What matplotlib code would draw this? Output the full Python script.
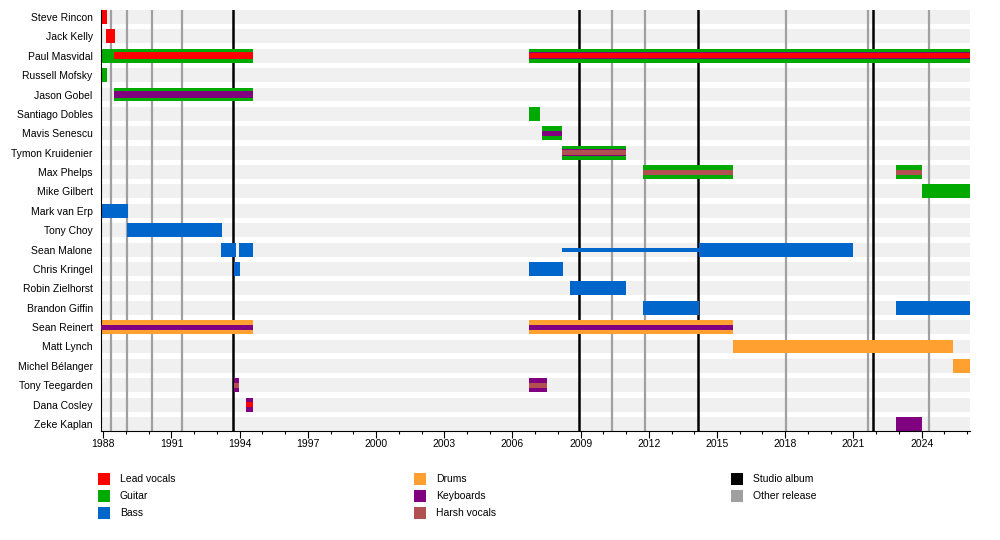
import matplotlib.pyplot as plt
from matplotlib.patches import Rectangle

plt.rcParams['font.family'] = ['Liberation Sans', 'DejaVu Sans']

START = 1987.9
END = 2026.13

members = ["Steve Rincon", "Jack Kelly", "Paul Masvidal", "Russell Mofsky", "Jason Gobel",
           "Santiago Dobles", "Mavis Senescu", "Tymon Kruidenier", "Max Phelps", "Mike Gilbert",
           "Mark van Erp", "Tony Choy", "Sean Malone", "Chris Kringel", "Robin Zielhorst",
           "Brandon Giffin", "Sean Reinert", "Matt Lynch", "Michel Bélanger", "Tony Teegarden",
           "Dana Cosley", "Zeke Kaplan"]

roles = ["Lead vocals", "Guitar", "Bass", "Drums", "Keyboards", "Harsh vocals"]
role_colors = {"Lead vocals": "#ff0000", "Guitar": "#00aa00", "Bass": "#0066cc",
               "Drums": "#ffa030", "Keyboards": "#800080", "Harsh vocals": "#b05050"}

# main bars: (member, start, end, role)
main_bars = [
    ("Steve Rincon", START, 1988.15, "Lead vocals"),
    ("Jack Kelly", 1988.12, 1988.51, "Lead vocals"),
    ("Paul Masvidal", START, 1994.6, "Guitar"),
    ("Paul Masvidal", 2006.73, END, "Guitar"),
    ("Russell Mofsky", START, 1988.15, "Guitar"),
    ("Jason Gobel", 1988.47, 1994.6, "Guitar"),
    ("Santiago Dobles", 2006.73, 2007.22, "Guitar"),
    ("Mavis Senescu", 2007.3, 2008.2, "Guitar"),
    ("Tymon Kruidenier", 2008.18, 2011.0, "Guitar"),
    ("Max Phelps", 2011.76, 2015.7, "Guitar"),
    ("Max Phelps", 2022.87, 2024.04, "Guitar"),
    ("Mike Gilbert", 2024.0, END, "Guitar"),
    ("Mark van Erp", START, 1989.1, "Bass"),
    ("Tony Choy", 1989.03, 1993.22, "Bass"),
    ("Sean Malone", 1993.18, 1993.84, "Bass"),
    ("Sean Malone", 1993.97, 1994.6, "Bass"),
    ("Sean Malone", 2014.2, 2020.99, "Bass"),
    ("Chris Kringel", 1993.76, 1994.01, "Bass"),
    ("Chris Kringel", 2006.73, 2008.22, "Bass"),
    ("Robin Zielhorst", 2008.53, 2011.0, "Bass"),
    ("Brandon Giffin", 2011.76, 2014.2, "Bass"),
    ("Brandon Giffin", 2022.87, END, "Bass"),
    ("Sean Reinert", START, 1994.6, "Drums"),
    ("Sean Reinert", 2006.73, 2015.7, "Drums"),
    ("Matt Lynch", 2015.7, 2025.37, "Drums"),
    ("Michel Bélanger", 2025.37, END, "Drums"),
    ("Tony Teegarden", 1993.76, 1993.98, "Keyboards"),
    ("Tony Teegarden", 2006.73, 2007.5, "Keyboards"),
    ("Dana Cosley", 1994.27, 1994.59, "Keyboards"),
    ("Zeke Kaplan", 2022.87, 2024.04, "Keyboards"),
]

# second layer inside the main bar
inner_bars = [
    ("Paul Masvidal", 1988.47, 1994.6, "Lead vocals"),
    ("Paul Masvidal", 2006.73, END, "Keyboards"),
    ("Jason Gobel", 1988.47, 1994.6, "Keyboards"),
    ("Tymon Kruidenier", 2008.18, 2011.0, "Keyboards"),
]

# thinnest layer
core_bars = [
    ("Paul Masvidal", 2006.73, END, "Lead vocals"),
    ("Mavis Senescu", 2007.3, 2008.2, "Keyboards"),
    ("Tymon Kruidenier", 2008.18, 2011.0, "Harsh vocals"),
    ("Max Phelps", 2011.76, 2015.7, "Harsh vocals"),
    ("Max Phelps", 2022.87, 2024.04, "Harsh vocals"),
    ("Sean Reinert", START, 1994.6, "Keyboards"),
    ("Sean Reinert", 2006.73, 2015.7, "Keyboards"),
    ("Tony Teegarden", 1993.76, 1993.98, "Harsh vocals"),
    ("Tony Teegarden", 2006.73, 2007.5, "Harsh vocals"),
    ("Dana Cosley", 1994.27, 1994.59, "Lead vocals"),
]

# session / touring line
thin_bars = [
    ("Sean Malone", 2008.18, 2014.2, "Bass"),
]

studio_albums = [1993.72, 2008.92, 2014.15, 2021.88]
other_releases = [1988.33, 1989.06, 1990.16, 1991.48, 2010.39, 2011.85, 2018.05, 2021.65, 2024.34]

year_ticks = list(range(1988, 2025, 3))

fig = plt.figure(figsize=(10, 5.4), dpi=100)
ax = fig.add_axes([0.101, 1 - 431 / 540, 0.869, (431 - 10) / 540])

row = {name: i for i, name in enumerate(members)}
H = 0.72

# background stripes
for name in members:
    ax.barh(row[name], END - START, left=START, height=H, color="#f0f0f0", zorder=0)

for x in other_releases:
    ax.axvline(x, color="#a0a0a0", lw=1.6, zorder=1)
for x in studio_albums:
    ax.axvline(x, color="black", lw=1.8, zorder=1)

for layer, h, z in [(main_bars, H, 2), (inner_bars, 0.36, 3), (core_bars, 0.26, 4), (thin_bars, 0.2, 2)]:
    for name, s, e, r in layer:
        ax.barh(row[name], e - s, left=s, height=h, color=role_colors[r], zorder=z, linewidth=0)

ax.set_xlim(START, END)
ax.set_ylim(len(members) - 1 + H / 2, -H / 2)
ax.set_yticks(range(len(members)))
ax.set_yticklabels(members, fontsize=7.5)
ax.tick_params(axis="y", length=0, pad=6)
ax.set_xticks(year_ticks)
ax.set_xticklabels([str(y) for y in year_ticks], fontsize=7.5)
ax.set_xticks(range(1988, 2027), minor=True)
ax.tick_params(axis="x", which="major", length=5, width=0.8, pad=1)
ax.tick_params(axis="x", which="minor", length=2.5, width=0.8)
for side in ["top", "right"]:
    ax.spines[side].set_visible(False)
ax.spines["left"].set_linewidth(0.8)
ax.spines["bottom"].set_linewidth(0.8)

# legend
legend_items = [
    ("Lead vocals", role_colors["Lead vocals"], 98, 479),
    ("Guitar", role_colors["Guitar"], 98, 496),
    ("Bass", role_colors["Bass"], 98, 513),
    ("Drums", role_colors["Drums"], 414, 479),
    ("Keyboards", role_colors["Keyboards"], 414, 496),
    ("Harsh vocals", role_colors["Harsh vocals"], 414, 513),
    ("Studio album", "black", 731, 479),
    ("Other release", "#a0a0a0", 731, 496),
]
for label, color, px, py in legend_items:
    fig.add_artist(Rectangle((px / 1000, 1 - (py + 6) / 540), 12 / 1000, 12 / 540,
                             transform=fig.transFigure, color=color, lw=0))
    fig.text((px + 22) / 1000, 1 - py / 540, label, fontsize=7.5, va="center", ha="left")

fig.savefig("out.png", dpi=100)
